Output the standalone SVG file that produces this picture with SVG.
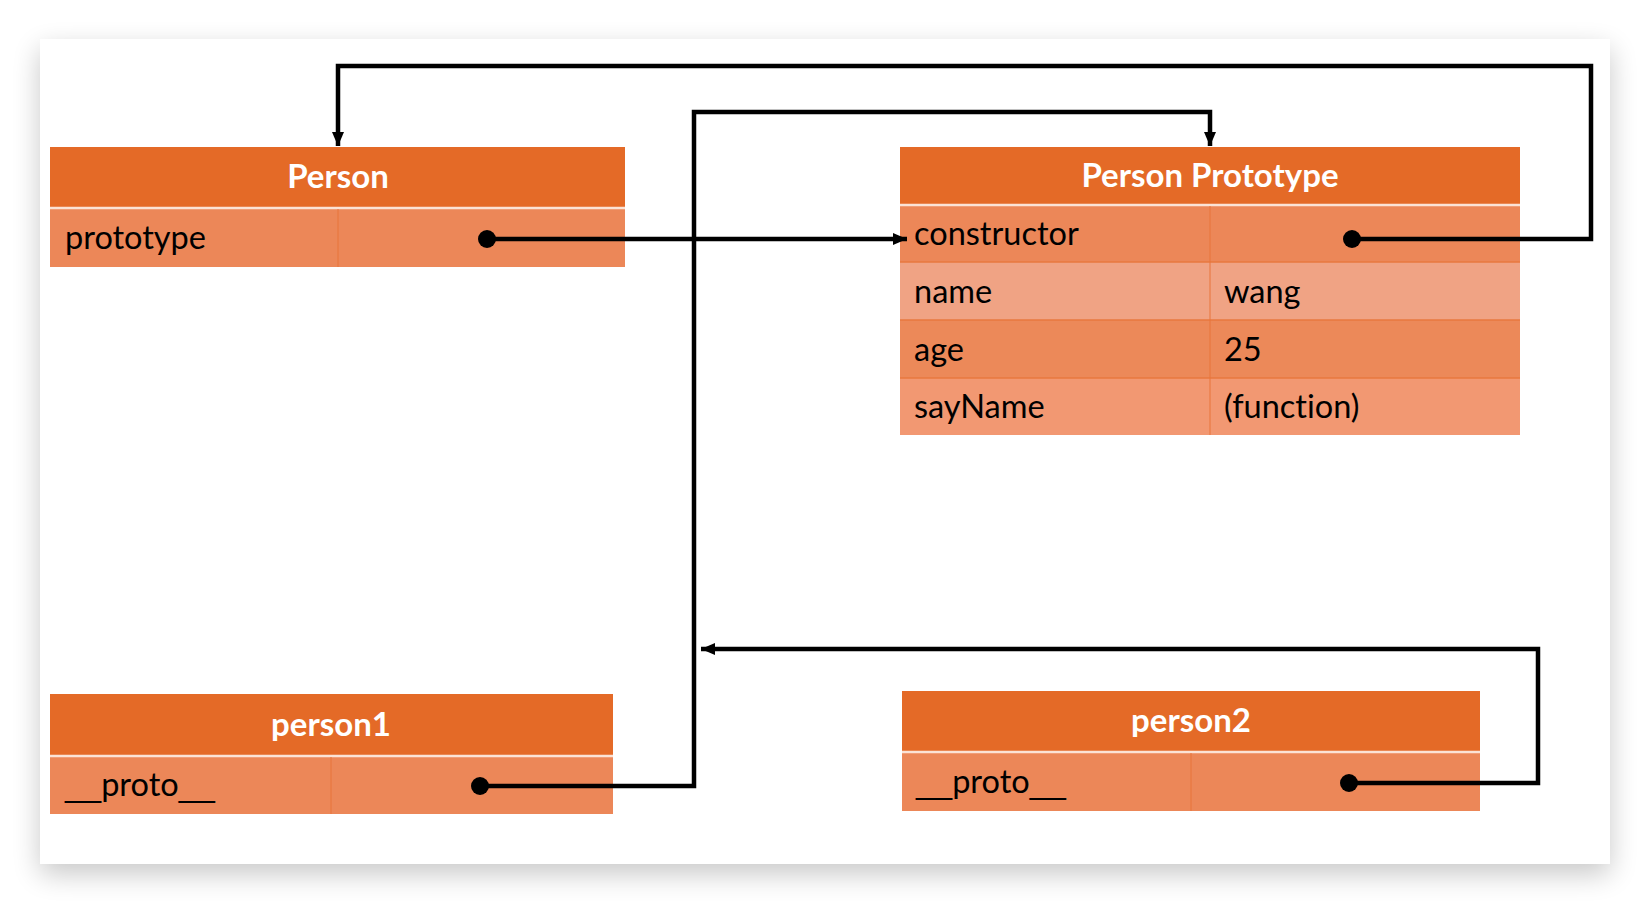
<svg xmlns="http://www.w3.org/2000/svg" width="1650" height="904" viewBox="0 0 1650 904">
<defs>
<filter id="sh" x="-10%" y="-10%" width="120%" height="125%">
<feGaussianBlur in="SourceAlpha" stdDeviation="14"/>
<feOffset dy="10"/>
<feComponentTransfer><feFuncA type="linear" slope="0.22"/></feComponentTransfer>
<feMerge><feMergeNode/><feMergeNode in="SourceGraphic"/></feMerge>
</filter>
<marker id="arr" viewBox="0 0 14 12" refX="14" refY="6" markerWidth="14" markerHeight="12" markerUnits="userSpaceOnUse" orient="auto">
<path d="M0,0 L14,6 L0,12 z" fill="#000"/>
</marker>
</defs>
<style>
.hd{fill:#E46A27}
.r1{fill:#EC8758}
.r2{fill:#F0A384}
.r3{fill:#EC8959}
.r4{fill:#F29872}
.sep{stroke:#FBE3D6;stroke-width:2.5}
.div{stroke:#E8743A;stroke-width:1}
.rowline{stroke:#E8793F;stroke-width:1.5}
.ht{font-family:Lato,"Open Sans",sans-serif;font-weight:bold;font-size:33px;fill:#fff;text-anchor:middle;font-variant-ligatures:none}
.t{font-family:Lato,"Open Sans",sans-serif;font-size:32.5px;fill:#000;font-variant-ligatures:none}
.us{font-family:"Liberation Sans",Arial,sans-serif}
.ln{fill:none;stroke:#000;stroke-width:4.5}
.dot{fill:#000}
</style>
<rect width="1650" height="904" fill="#fff"/>
<rect x="40" y="39" width="1570" height="825" fill="#fff" filter="url(#sh)"/>

<g id="person">
<rect class="hd" x="50" y="147" width="575" height="60"/>
<rect class="r1" x="50" y="208" width="575" height="59"/>
<line class="sep" x1="50" y1="208" x2="625" y2="208"/>
<line class="div" x1="338" y1="209" x2="338" y2="267"/>
<text class="ht" x="338" y="188">Person</text>
<text class="t" x="65" y="249">prototype</text>
</g>

<g id="person-prototype">
<rect class="hd" x="900" y="147" width="620" height="57"/>
<rect class="r1" x="900" y="205" width="620" height="57"/>
<rect class="r2" x="900" y="262" width="620" height="58"/>
<rect class="r3" x="900" y="320" width="620" height="58"/>
<rect class="r4" x="900" y="378" width="620" height="57"/>
<line class="sep" x1="900" y1="205" x2="1520" y2="205"/>
<line class="rowline" x1="900" y1="262" x2="1520" y2="262"/>
<line class="rowline" x1="900" y1="320" x2="1520" y2="320"/>
<line class="rowline" x1="900" y1="378" x2="1520" y2="378"/>
<line class="div" x1="1210" y1="206" x2="1210" y2="435"/>
<text class="ht" x="1210" y="187">Person Prototype</text>
<text class="t" x="914" y="245">constructor</text>
<text class="t" x="914" y="303">name</text>
<text class="t" x="1224" y="303">wang</text>
<text class="t" x="914" y="361">age</text>
<text class="t" x="1224" y="361">25</text>
<text class="t" x="914" y="418">sayName</text>
<text class="t" x="1224" y="418">(function)</text>
</g>

<g id="person1">
<rect class="hd" x="50" y="694" width="563" height="61"/>
<rect class="r1" x="50" y="756" width="563" height="58"/>
<line class="sep" x1="50" y1="756" x2="613" y2="756"/>
<line class="div" x1="331" y1="757" x2="331" y2="814"/>
<text class="ht" x="331" y="736">person1</text>
<text class="t" x="65" y="796"><tspan class="us">__</tspan>proto<tspan class="us">__</tspan></text>
</g>

<g id="person2">
<rect class="hd" x="902" y="691" width="578" height="60"/>
<rect class="r1" x="902" y="752" width="578" height="59"/>
<line class="sep" x1="902" y1="752" x2="1480" y2="752"/>
<line class="div" x1="1191" y1="753" x2="1191" y2="811"/>
<text class="ht" x="1191" y="732">person2</text>
<text class="t" x="916" y="793"><tspan class="us">__</tspan>proto<tspan class="us">__</tspan></text>
</g>

<g id="connectors">
<circle class="dot" cx="1352" cy="239" r="9"/>
<path class="ln" d="M1352,239 H1591 V66 H338 V146" marker-end="url(#arr)"/>
<circle class="dot" cx="487" cy="239" r="9"/>
<path class="ln" d="M487,239 H907" marker-end="url(#arr)"/>
<circle class="dot" cx="480" cy="786" r="9"/>
<path class="ln" d="M480,786 H694 V112 H1210 V146" marker-end="url(#arr)"/>
<circle class="dot" cx="1349" cy="783" r="9"/>
<path class="ln" d="M1349,783 H1538 V649 H701" marker-end="url(#arr)"/>
</g>
</svg>
